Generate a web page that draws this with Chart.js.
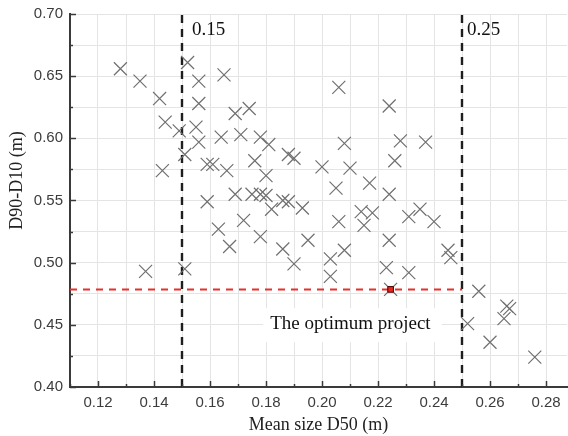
<!DOCTYPE html>
<html>
<head>
<meta charset="utf-8">
<script src="https://cdn.jsdelivr.net/npm/chart.js@4.4.0/dist/chart.umd.min.js"></script>
<style>
  html, body { margin: 0; padding: 0; background: #fff; }
  #wrap { width: 568px; height: 436px; position: relative; }
</style>
</head>
<body>
<div id="wrap"><canvas id="scatter-chart-canvas"></canvas></div>
<script>
// mean size D50 (m) and D90-D10 (m) of every project, same order
const d50 = [
  0.128, 0.135, 0.142, 0.144, 0.149, 0.143, 0.151, 0.152, 0.156, 0.156,
  0.155, 0.156, 0.159, 0.161, 0.165, 0.164, 0.166, 0.159, 0.169, 0.174,
  0.171, 0.178, 0.181, 0.188, 0.190, 0.206, 0.208, 0.176, 0.180, 0.200,
  0.210, 0.205, 0.217, 0.224, 0.228, 0.237, 0.226, 0.224, 0.137, 0.151,
  0.163, 0.167, 0.169, 0.175, 0.178, 0.180, 0.182, 0.186, 0.188, 0.193,
  0.214, 0.218, 0.215, 0.206, 0.172, 0.178, 0.186, 0.195, 0.190, 0.203,
  0.208, 0.203, 0.231, 0.235, 0.240, 0.224, 0.245, 0.246, 0.223, 0.231,
  0.2245, 0.256, 0.252, 0.266, 0.267, 0.265, 0.260, 0.276
];
const d90d10 = [
  0.656, 0.646, 0.632, 0.613, 0.606, 0.574, 0.587, 0.661, 0.646, 0.628,
  0.609, 0.597, 0.579, 0.579, 0.651, 0.601, 0.574, 0.549, 0.620, 0.624,
  0.603, 0.601, 0.595, 0.587, 0.584, 0.641, 0.596, 0.582, 0.570, 0.577,
  0.576, 0.560, 0.564, 0.626, 0.598, 0.597, 0.582, 0.555, 0.493, 0.495,
  0.527, 0.513, 0.555, 0.555, 0.555, 0.554, 0.543, 0.550, 0.549, 0.544,
  0.541, 0.540, 0.530, 0.533, 0.534, 0.521, 0.511, 0.518, 0.499, 0.503,
  0.510, 0.489, 0.537, 0.543, 0.533, 0.518, 0.510, 0.504, 0.496, 0.492,
  0.4785, 0.477, 0.451, 0.465, 0.463, 0.455, 0.436, 0.424
];

const optimumD50 = [0.2245];
const optimumSpread = [0.4785];

const limitD50 = [0.15, 0.25];
const limitLabels = ['0.15', '0.25'];
const optimumLabel = 'The optimum project';

const xTickValues = [0.11, 0.12, 0.13, 0.14, 0.15, 0.16, 0.17, 0.18, 0.19, 0.20,
  0.21, 0.22, 0.23, 0.24, 0.25, 0.26, 0.27, 0.28];
const xTickLabels = ['0.12', '0.14', '0.16', '0.18', '0.20', '0.22', '0.24', '0.26', '0.28'];
const yTickValues = [0.40, 0.425, 0.45, 0.475, 0.50, 0.525, 0.55, 0.575, 0.60, 0.625, 0.65, 0.675, 0.70];
const yTickLabels = ['0.40', '0.45', '0.50', '0.55', '0.60', '0.65', '0.70'];

const xTitle = 'Mean size D50 (m)';
const yTitle = 'D90-D10 (m)';

const xMin = 0.11, xMax = 0.2875, yMin = 0.40, yMax = 0.70;

const SANS = "'Liberation Sans', Arial, sans-serif";
const SERIF = "'Liberation Serif', 'Times New Roman', serif";

const points = d50.map((x, i) => ({ x: x, y: d90d10[i] }));
const optimumPoint = optimumD50.map((x, i) => ({ x: x, y: optimumSpread[i] }));

const xLabelFor = (v) => {
  const s = Number(v).toFixed(2);
  return xTickLabels.includes(s) ? s : '';
};
const yLabelFor = (v) => {
  // minor ticks sit on x.xx5, only the 0.05 steps get a label
  if (Math.abs(v * 20 - Math.round(v * 20)) > 1e-6) return '';
  const s = Number(v).toFixed(2);
  return yTickLabels.includes(s) ? s : '';
};

// ticks pointing into the plot, x tick labels, white box behind the label, texts
const decorations = {
  id: 'decorations',
  beforeDatasetsDraw(chart) {
    const ctx = chart.ctx;
    const x = chart.scales.x, y = chart.scales.y;
    ctx.save();
    ctx.font = '19px ' + SERIF;
    const w = ctx.measureText(optimumLabel).width;
    const left = x.getPixelForValue(0.1815);
    const base = y.getPixelForValue(0.4465);
    ctx.fillStyle = '#fff';
    ctx.fillRect(left - 7, base - 21, w + 18, 34);
    ctx.restore();
  },
  afterDraw(chart) {
    const ctx = chart.ctx;
    const area = chart.chartArea;
    const x = chart.scales.x, y = chart.scales.y;
    ctx.save();
    ctx.strokeStyle = '#3a3a3a';
    ctx.lineWidth = 1.5;
    xTickValues.forEach((v) => {
      const px = Math.round(x.getPixelForValue(v)) + 0.5;
      const len = xLabelFor(v) ? 6 : 3;
      ctx.beginPath();
      ctx.moveTo(px, area.bottom);
      ctx.lineTo(px, area.bottom - len);
      ctx.stroke();
    });
    yTickValues.forEach((v) => {
      const py = Math.round(y.getPixelForValue(v)) + 0.5;
      const len = yLabelFor(v) ? 6 : 3;
      ctx.beginPath();
      ctx.moveTo(area.left, py);
      ctx.lineTo(area.left + len, py);
      ctx.stroke();
    });

    ctx.fillStyle = '#3c3c3c';
    ctx.font = '15px ' + SANS;
    ctx.textAlign = 'center';
    ctx.textBaseline = 'middle';
    xTickValues.forEach((v) => {
      const s = xLabelFor(v);
      if (s) ctx.fillText(s, x.getPixelForValue(v), area.bottom + 16);
    });

    ctx.fillStyle = '#111';
    ctx.font = '19px ' + SERIF;
    ctx.textAlign = 'left';
    ctx.textBaseline = 'alphabetic';
    limitD50.forEach((v, i) => {
      ctx.fillText(limitLabels[i], x.getPixelForValue(v) + (i === 0 ? 10 : 5), area.top + 21);
    });
    ctx.fillText(optimumLabel, x.getPixelForValue(0.1815), y.getPixelForValue(0.4465));

    ctx.fillStyle = '#222';
    ctx.font = '18px ' + SERIF;
    ctx.textAlign = 'center';
    ctx.fillText(xTitle, (area.left + area.right) / 2, 430);
    ctx.translate(22, (area.top + area.bottom) / 2 - 20);
    ctx.rotate(-Math.PI / 2);
    ctx.fillText(yTitle, 0, 0);
    ctx.restore();
  }
};

const ctx = document.getElementById('scatter-chart-canvas').getContext('2d');
new Chart(ctx, {
  type: 'scatter',
  data: {
    datasets: [
      {
        label: 'Optimum',
        data: optimumPoint,
        pointStyle: 'rect',
        pointRadius: 4,
        backgroundColor: '#e8241c',
        borderColor: '#4a0000',
        borderWidth: 1,
      },
      {
        label: 'Projects',
        data: points,
        pointStyle: 'crossRot',
        pointRadius: 9.2,
        borderColor: '#707070',
        borderWidth: 1.2,
      },
      {
        label: 'Optimum level',
        data: [{ x: xMin, y: optimumSpread[0] }, { x: limitD50[1], y: optimumSpread[0] }],
        showLine: true,
        pointRadius: 0,
        borderColor: '#e8302a',
        borderWidth: 2,
        borderDash: [7, 6],
      },
      {
        label: 'D50 0.15',
        data: [{ x: limitD50[0], y: yMin }, { x: limitD50[0], y: yMax }],
        showLine: true,
        pointRadius: 0,
        borderColor: '#1e1e1e',
        borderWidth: 2.4,
        borderDash: [8, 6],
      },
      {
        label: 'D50 0.25',
        data: [{ x: limitD50[1], y: yMin }, { x: limitD50[1], y: yMax }],
        showLine: true,
        pointRadius: 0,
        borderColor: '#1e1e1e',
        borderWidth: 2.4,
        borderDash: [8, 6],
      },
    ],
  },
  options: {
    responsive: true,
    maintainAspectRatio: false,
    animation: false,
    layout: {
      autoPadding: false, // otherwise the big cross markers eat ~10px on the right
      padding: { top: 14, right: 1, left: 0, bottom: 0 },
    },
    plugins: {
      legend: { display: false },
      tooltip: { enabled: false },
    },
    scales: {
      x: {
        type: 'linear',
        min: xMin,
        max: xMax,
        afterBuildTicks: (scale) => { scale.ticks = xTickValues.map((v) => ({ value: v })); },
        afterFit: (scale) => { scale.height = 49; },
        grid: { color: '#e4e4e4', lineWidth: 1, drawTicks: false },
        border: { display: true, color: '#3a3a3a', width: 2 },
        ticks: { display: false },
      },
      y: {
        type: 'linear',
        min: yMin,
        max: yMax,
        afterBuildTicks: (scale) => { scale.ticks = yTickValues.map((v) => ({ value: v })); },
        afterFit: (scale) => {
          scale.width = 70;
          scale.paddingTop = 0;
          scale.paddingBottom = 0;
        },
        grid: { color: '#e4e4e4', lineWidth: 1, drawTicks: false },
        border: { display: true, color: '#3a3a3a', width: 2 },
        ticks: {
          autoSkip: false,
          padding: 7,
          color: '#3c3c3c',
          font: { family: SANS, size: 15 },
          callback: (v) => yLabelFor(v),
        },
      },
    },
  },
  plugins: [decorations],
});
</script>
</body>
</html>
